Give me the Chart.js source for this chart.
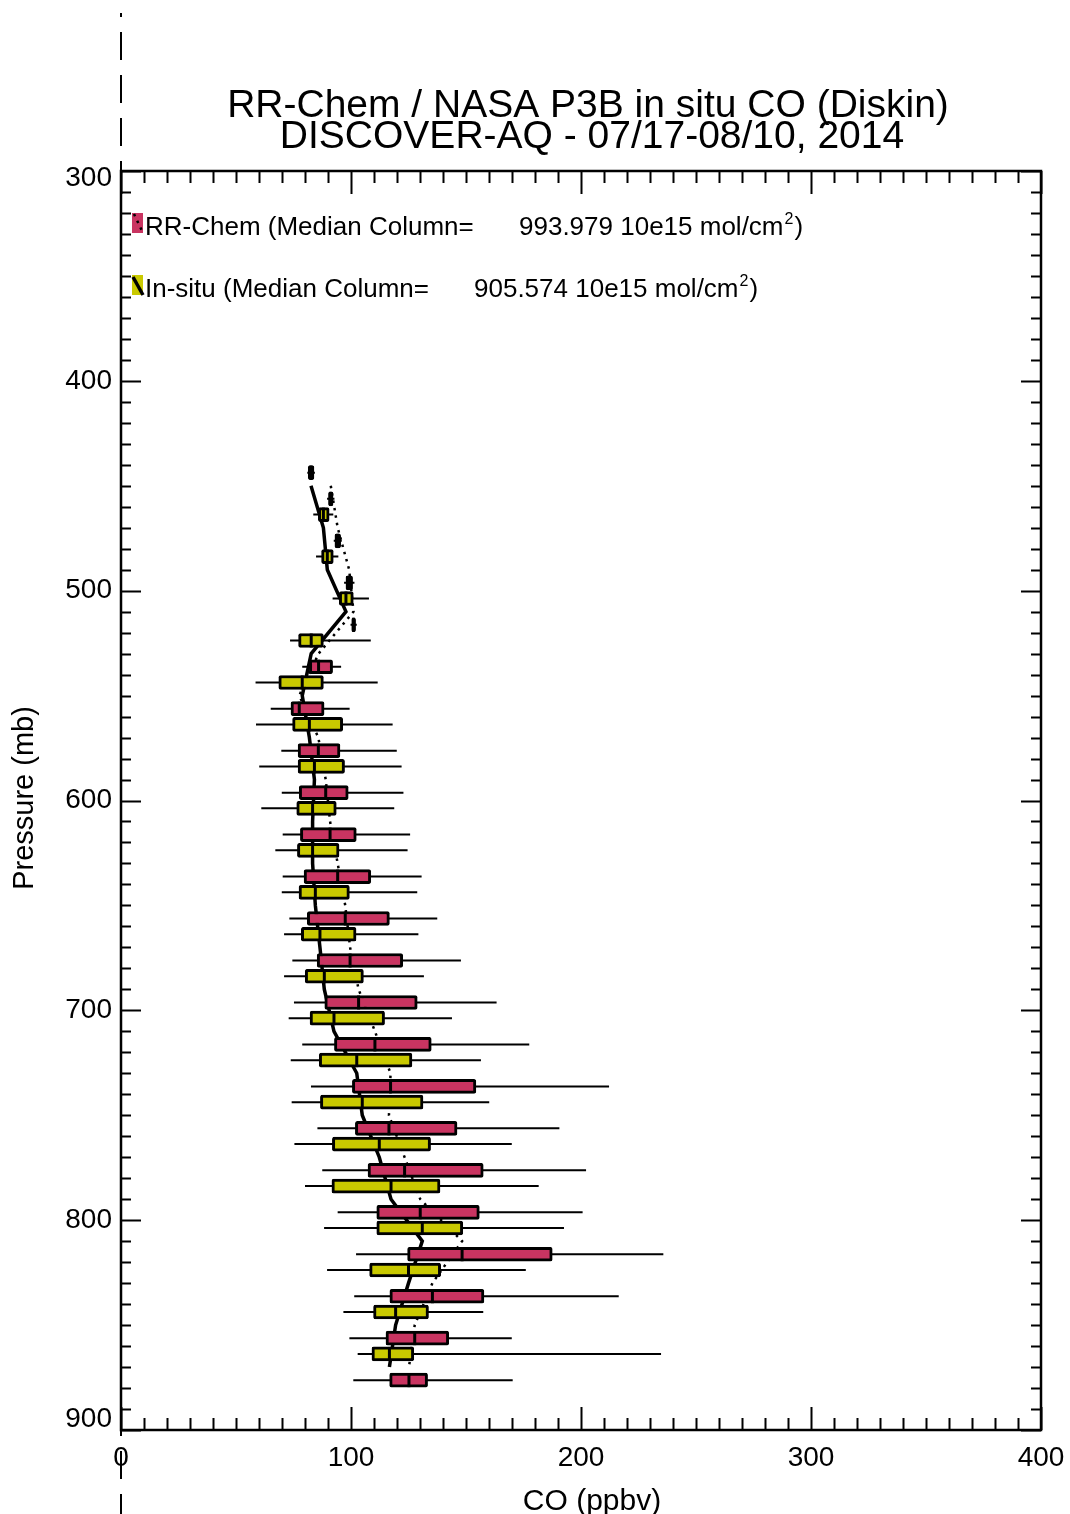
<!DOCTYPE html>
<html>
<head>
<meta charset="utf-8">
<title>RR-Chem / NASA P3B in situ CO</title>
<script src="https://cdn.jsdelivr.net/npm/chart.js@4.4.1/dist/chart.umd.min.js"></script>
<style>
  html, body { margin: 0; padding: 0; background: #ffffff; }
  #wrap { width: 1070px; height: 1514px; position: relative; }
  canvas { display: block; }
</style>
</head>
<body>
<div id="wrap"><canvas id="chart" width="1070" height="1514"></canvas></div>
<script>
// Pressure levels (mb) of the vertical bins
const levels = [440, 460, 480, 500, 520, 540, 560, 580, 600, 620, 640, 660,
                680, 700, 720, 740, 760, 780, 800, 820, 840, 860, 880];

// RR-Chem CO statistics per level (ppbv)
const rrLow  = [null, 89.6, 92.5, 97.0, 99.8, 78.8, 65.1, 69.7, 69.9, 70.3, 70.3, 73.2,
                74.5, 75.2, 78.8, 82.6, 85.4, 87.5, 94.2, 102.2, 101.4, 99.3, 101.0];
const rrQ1   = [null, 90.2, 93.0, 97.8, 100.3, 81.9, 73.9, 77.0, 77.5, 78.0, 79.6, 81.0,
                85.3, 88.6, 92.8, 100.6, 101.9, 107.4, 111.2, 124.6, 116.9, 115.2, 116.8];
const rrMed  = [null, 91.2, 94.2, 99.2, 101.1, 85.9, 77.5, 85.8, 89.0, 90.9, 94.2, 97.5,
                99.6, 103.3, 110.4, 117.2, 116.5, 123.3, 130.1, 148.3, 135.4, 127.7, 125.2];
const rrQ3   = [null, 92.2, 95.5, 100.7, 102.0, 92.0, 88.3, 95.2, 98.8, 102.3, 108.6, 116.7,
                122.5, 128.8, 134.9, 154.3, 146.1, 157.5, 155.8, 187.5, 157.8, 142.5, 133.3];
const rrHigh = [null, 92.8, 96.0, 101.5, 102.5, 95.7, 99.4, 119.9, 122.8, 125.7, 130.7, 137.5,
                147.8, 163.3, 177.5, 212.2, 190.6, 202.2, 200.7, 235.8, 216.4, 169.9, 170.3];

// P3B in-situ CO statistics per level (ppbv)
const isLow  = [81.0, 83.6, 84.8, 92.0, 73.5, 58.5, 58.7, 60.1, 61.0, 67.1, 69.9, 70.9,
                70.9, 72.9, 73.8, 74.2, 75.4, 80.0, 88.3, 89.6, 96.7, 102.9, null];
const isQ1   = [81.4, 85.8, 87.2, 94.9, 77.2, 68.6, 74.6, 77.0, 76.4, 76.7, 77.4, 78.4,
                80.1, 82.2, 86.2, 86.7, 91.9, 91.7, 111.2, 108.1, 109.8, 109.1, null];
const isMed  = [82.6, 88.0, 89.7, 97.8, 82.7, 78.8, 81.9, 84.1, 83.3, 83.3, 84.5, 86.5,
                88.4, 92.6, 102.5, 104.9, 112.3, 117.4, 131.0, 125.0, 119.4, 116.7, null];
const isQ3   = [83.9, 90.5, 92.3, 101.0, 88.0, 88.0, 96.4, 97.2, 93.6, 94.8, 99.3, 102.2,
                105.4, 114.6, 126.5, 131.3, 134.6, 138.7, 148.6, 139.0, 133.7, 127.3, null];
const isHigh = [84.3, 92.3, 94.5, 107.8, 108.6, 111.6, 118.1, 122.0, 118.8, 124.6, 128.8, 129.3,
                131.7, 143.9, 156.5, 160.1, 169.9, 181.6, 192.6, 176.0, 157.5, 234.8, null];

// Legend entries and column totals
const seriesNames   = ['RR-Chem', 'In-situ'];
const medianColumns = [993.979, 905.574];

// Axis ticks
const xTicks = [0, 100, 200, 300, 400];
const yTicks = [300, 400, 500, 600, 700, 800, 900];

const titleLines = ['RR-Chem / NASA P3B in situ CO (Diskin)', 'DISCOVER-AQ - 07/17-08/10, 2014'];
const xTitle = 'CO (ppbv)';
const yTitle = 'Pressure (mb)';

const FAMILY = "'Liberation Sans', Arial, Helvetica, sans-serif";
const RED = '#c93461';
const YELLOW = '#c9c900';

// vertical offsets (mb) so the two boxes of a level sit side by side
const BOX_SHIFT = 3.75;
const PROFILE_SHIFT = 10;

function boxes(q1, q3, shift) {
  const out = [];
  levels.forEach((p, i) => { if (q1[i] != null) out.push({ x: [q1[i], q3[i]], y: p + shift }); });
  return out;
}
function whiskers(lo, hi, shift) {
  const out = [];
  levels.forEach((p, i) => {
    if (lo[i] != null) out.push({ x: lo[i], y: p + shift }, { x: hi[i], y: p + shift }, { x: null, y: null });
  });
  return out;
}
function points(vals, shift) {
  const out = [];
  levels.forEach((p, i) => { if (vals[i] != null) out.push({ x: vals[i], y: p + shift }); });
  return out;
}

// inward tick marks and the frame round the plot
const frame = {
  id: 'frame',
  afterDatasetsDraw(chart) {
    const { ctx, chartArea: a, scales: { x, y } } = chart;
    ctx.save();
    ctx.strokeStyle = '#000';
    ctx.lineWidth = 2;
    ctx.beginPath();
    for (let v = xTicks[0]; v <= xTicks[xTicks.length - 1]; v += 10) {
      const px = Math.round(x.getPixelForValue(v)) + 0.5;
      const len = v % 100 === 0 ? 23 : 12;
      ctx.moveTo(px, a.bottom); ctx.lineTo(px, a.bottom - len);
      ctx.moveTo(px, a.top); ctx.lineTo(px, a.top + len);
    }
    for (let p = yTicks[0]; p <= yTicks[yTicks.length - 1]; p += 10) {
      const py = Math.round(y.getPixelForValue(p)) + 0.5;
      const len = p % 100 === 0 ? 20 : 10;
      ctx.moveTo(a.left, py); ctx.lineTo(a.left + len, py);
      ctx.moveTo(a.right, py); ctx.lineTo(a.right - len, py);
    }
    ctx.stroke();
    ctx.lineWidth = 2.5;
    ctx.strokeRect(a.left, a.top, a.right - a.left, a.bottom - a.top);
    ctx.restore();
  }
};

// title, axis titles, legend and the dashed zero line
const annotations = {
  id: 'annotations',
  afterDraw(chart) {
    const { ctx, chartArea: a, scales: { x } } = chart;
    ctx.save();
    ctx.fillStyle = '#000';
    ctx.textBaseline = 'alphabetic';

    // title
    ctx.textAlign = 'center';
    ctx.font = `39px ${FAMILY}`;
    ctx.fillText(titleLines[0], 588, 117);
    ctx.fillText(titleLines[1], 592, 148);

    // x axis title
    ctx.font = `30px ${FAMILY}`;
    ctx.fillText(xTitle, 592, 1510);

    // y axis title
    ctx.save();
    ctx.translate(33, 798);
    ctx.rotate(-Math.PI / 2);
    ctx.font = `29px ${FAMILY}`;
    ctx.fillText(yTitle, 0, 0);
    ctx.restore();

    // legend
    const rows = [
      { y: 235, fill: RED, valueX: 519 },
      { y: 297, fill: YELLOW, valueX: 474 }
    ];
    rows.forEach((r, i) => {
      ctx.fillStyle = r.fill;
      ctx.fillRect(a.left + 11, r.y - 22, 11, 20);
      ctx.strokeStyle = '#000';
      if (i === 0) {
        ctx.lineWidth = 2.5;
        ctx.setLineDash([2.5, 5]);
        ctx.beginPath(); ctx.moveTo(a.left + 13, r.y - 21); ctx.lineTo(a.left + 21, r.y - 4); ctx.stroke();
        ctx.setLineDash([]);
      } else {
        ctx.lineWidth = 3.5;
        ctx.beginPath(); ctx.moveTo(a.left + 12, r.y - 20); ctx.lineTo(a.left + 22, r.y - 2); ctx.stroke();
      }
      ctx.fillStyle = '#000';
      ctx.textAlign = 'left';
      ctx.font = `26px ${FAMILY}`;
      ctx.fillText(`${seriesNames[i]} (Median Column=`, a.left + 24, r.y);
      const val = `${medianColumns[i].toFixed(3)} 10e15 mol/cm`;
      ctx.fillText(val, r.valueX, r.y);
      const w = ctx.measureText(val).width;
      ctx.font = `16px ${FAMILY}`;
      ctx.fillText('2', r.valueX + w + 1, r.y - 11);
      const w2 = ctx.measureText('2').width;
      ctx.font = `26px ${FAMILY}`;
      ctx.fillText(')', r.valueX + w + w2 + 2, r.y);
    });

    // dashed line at zero CO running the full page height
    const x0 = Math.round(x.getPixelForValue(0));
    ctx.strokeStyle = '#000';
    ctx.lineWidth = 2;
    ctx.setLineDash([28, 15]);
    ctx.lineDashOffset = 24;
    ctx.beginPath();
    ctx.moveTo(x0, 13);
    ctx.lineTo(x0, chart.height);
    ctx.stroke();
    ctx.restore();
  }
};

const yLabelFont = (ctx) => {
  const v = ctx.tick ? ctx.tick.value : null;
  let lh = 1.2;
  if (v === yTicks[0]) lh = '14px';
  if (v === yTicks[yTicks.length - 1]) lh = '22px';
  return { family: FAMILY, size: 28, lineHeight: lh };
};

const medianStyle = {
  type: 'line', showLine: false, pointStyle: 'line', pointRotation: 90, pointRadius: 7,
  pointBorderWidth: 3, pointBorderColor: '#000', pointBackgroundColor: '#000', order: 0
};
const boxStyle = {
  type: 'bar', borderColor: '#000', borderWidth: 3, borderSkipped: false,
  borderRadius: 2, barThickness: 14, grouped: false, order: 1
};

new Chart(document.getElementById('chart'), {
  type: 'bar',
  data: {
    datasets: [
      Object.assign({ label: 'RR-Chem median', data: points(rrMed, -BOX_SHIFT) }, medianStyle),
      Object.assign({ label: 'In-situ median', data: points(isMed, BOX_SHIFT) }, medianStyle),
      Object.assign({ label: seriesNames[0], data: boxes(rrQ1, rrQ3, -BOX_SHIFT), backgroundColor: RED }, boxStyle),
      Object.assign({ label: seriesNames[1], data: boxes(isQ1, isQ3, BOX_SHIFT), backgroundColor: YELLOW }, boxStyle),
      {
        type: 'line', label: 'RR-Chem range', data: whiskers(rrLow, rrHigh, -BOX_SHIFT),
        borderColor: '#000', borderWidth: 2, pointRadius: 0, spanGaps: false, order: 2
      },
      {
        type: 'line', label: 'In-situ range', data: whiskers(isLow, isHigh, BOX_SHIFT),
        borderColor: '#000', borderWidth: 2, pointRadius: 0, spanGaps: false, order: 2
      },
      {
        type: 'line', label: 'RR-Chem profile', data: points(rrMed, -PROFILE_SHIFT),
        borderColor: '#000', borderWidth: 2.5, borderDash: [2.5, 5], pointRadius: 0, order: 3
      },
      {
        type: 'line', label: 'In-situ profile', data: points(isMed, PROFILE_SHIFT),
        borderColor: '#000', borderWidth: 3.5, pointRadius: 0, order: 3
      }
    ]
  },
  options: {
    indexAxis: 'y',
    responsive: false,
    animation: false,
    events: [],
    layout: { padding: { top: 171, right: 29, bottom: 0, left: 0 } },
    plugins: { legend: { display: false }, tooltip: { enabled: false }, title: { display: false } },
    scales: {
      x: {
        type: 'linear', position: 'bottom', offset: false,
        min: xTicks[0], max: xTicks[xTicks.length - 1],
        grid: { display: false, drawTicks: false, offset: false }, border: { display: false },
        afterBuildTicks: (s) => { s.ticks = xTicks.map(v => ({ value: v })); },
        ticks: { color: '#000', padding: 11, autoSkip: false, maxRotation: 0,
                 font: { family: FAMILY, size: 28 } },
        afterFit: (s) => { s.height = 84; s.paddingLeft = 0; s.paddingRight = 0; }
      },
      y: {
        type: 'linear', position: 'left', reverse: true, offset: false,
        min: yTicks[0], max: yTicks[yTicks.length - 1],
        grid: { display: false, drawTicks: false, offset: false }, border: { display: false },
        afterBuildTicks: (s) => { s.ticks = yTicks.map(v => ({ value: v })); },
        ticks: {
          color: '#000', padding: 9, autoSkip: false, font: yLabelFont,
          callback: (v) => v === yTicks[0] ? ['', String(v)]
                        : v === yTicks[yTicks.length - 1] ? [String(v), ''] : String(v)
        },
        afterFit: (s) => { s.width = 121; s.paddingTop = 0; s.paddingBottom = 0; }
      }
    }
  },
  plugins: [frame, annotations]
});
</script>
</body>
</html>
